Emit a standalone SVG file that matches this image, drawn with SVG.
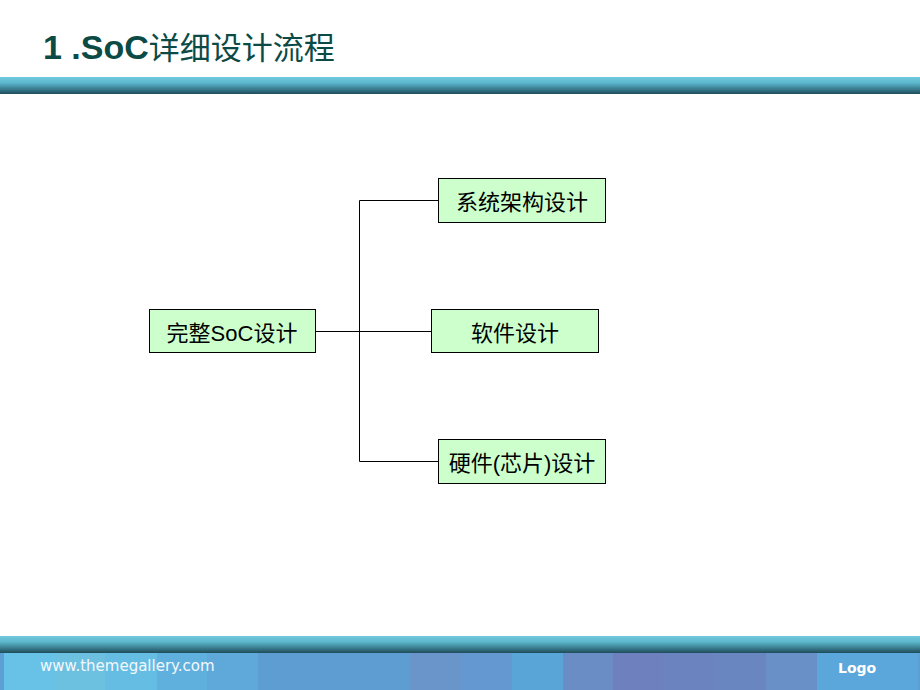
<svg xmlns="http://www.w3.org/2000/svg" width="920" height="690" viewBox="0 0 920 690">
<style>
.box{fill:#ccffcc;stroke:#000;stroke-width:1}
.lbl{font-family:"Liberation Sans","Noto Sans CJK SC",sans-serif;font-size:22px;fill:#000;text-anchor:middle}
.conn{fill:none;stroke:#000;stroke-width:1}
</style>
<defs>
<linearGradient id="bar" x1="0" y1="0" x2="0" y2="1">
<stop offset="0" stop-color="#72cade"/>
<stop offset="0.35" stop-color="#5cb6cc"/>
<stop offset="0.7" stop-color="#3a7e90"/>
<stop offset="1" stop-color="#1f4c5a"/>
</linearGradient>
</defs>
<rect width="920" height="690" fill="#fff"/>
<g id="header">
<text x="43" y="59" font-family="Liberation Sans,'Noto Sans CJK SC',sans-serif" fill="#0b4a45"><tspan font-size="34" font-weight="bold">1 .SoC</tspan><tspan font-size="31">详细设计流程</tspan></text>
<rect x="0" y="77" width="920" height="17" fill="url(#bar)"/>
</g>
<g id="footer">
<rect x="0" y="636" width="920" height="17" fill="url(#bar)"/>
<rect x="0" y="653" width="920" height="37" fill="#5b9fd4"/>
<rect x="4" y="653" width="51" height="37" fill="#68c2e8"/>
<rect x="55" y="653" width="50" height="37" fill="#6cc0e0"/>
<rect x="105" y="653" width="52" height="37" fill="#65bde3"/>
<rect x="157" y="653" width="50" height="37" fill="#60b0de"/>
<rect x="207" y="653" width="51" height="37" fill="#5fa8da"/>
<rect x="258" y="653" width="152" height="37" fill="#5e9dd2"/>
<rect x="410" y="653" width="51" height="37" fill="#6995cb"/>
<rect x="461" y="653" width="51" height="37" fill="#6399d0"/>
<rect x="512" y="653" width="51" height="37" fill="#5aa5d7"/>
<rect x="563" y="653" width="50" height="37" fill="#6a8dc5"/>
<rect x="613" y="653" width="50" height="37" fill="#6e80bd"/>
<rect x="663" y="653" width="51" height="37" fill="#6b84bf"/>
<rect x="714" y="653" width="52" height="37" fill="#6a86c1"/>
<rect x="766" y="653" width="51" height="37" fill="#6a90c8"/>
<rect x="817" y="653" width="101" height="37" fill="#5ba6da"/>
<text x="40" y="671" font-family="DejaVu Sans,sans-serif" font-size="15" fill="#f4f8fc">www.themegallery.com</text>
<text x="838" y="673" font-family="DejaVu Sans,sans-serif" font-size="14" font-weight="bold" fill="#fff">Logo</text>
</g>
<g id="connectors">
<path class="conn" d="M315.5 331.5H431.5"/>
<path class="conn" d="M438.5 200.5H359.5V461.5H438.5"/>
</g>
<g id="node-root">
<rect class="box" x="149.5" y="309.5" width="166" height="43"/>
<text class="lbl" x="232" y="340.5">完整SoC设计</text>
</g>
<g id="node-arch">
<rect class="box" x="438.5" y="178.5" width="167" height="44"/>
<text class="lbl" x="522" y="210">系统架构设计</text>
</g>
<g id="node-sw">
<rect class="box" x="431.5" y="309.5" width="167" height="43"/>
<text class="lbl" x="515" y="340.5">软件设计</text>
</g>
<g id="node-hw">
<rect class="box" x="438.5" y="439.5" width="167" height="44"/>
<text class="lbl" x="522" y="471">硬件(芯片)设计</text>
</g>
</svg>
